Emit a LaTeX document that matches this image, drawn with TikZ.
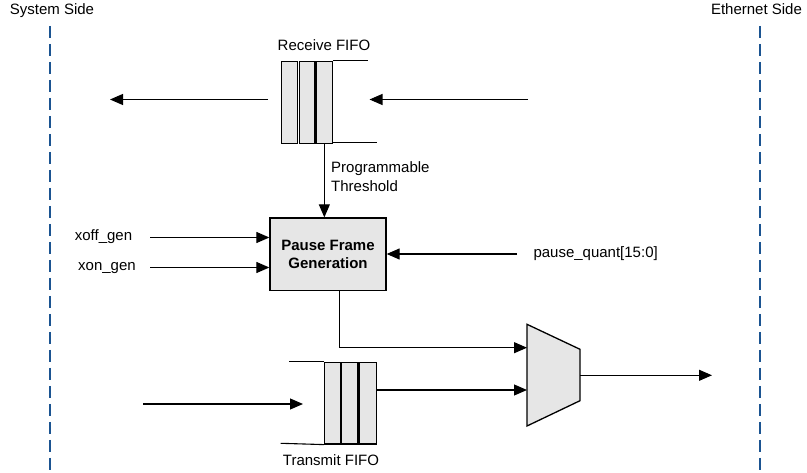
\documentclass[tikz,border=0pt]{standalone}
\usepackage{fontspec}
\setmainfont{Liberation Sans}
\usetikzlibrary{arrows.meta}
\definecolor{dashblue}{HTML}{1B5491}
\definecolor{cellgray}{HTML}{E6E6E6}
\begin{document}
\begin{tikzpicture}[x=1pt,y=-1pt,
  font=\fontsize{15}{18.5}\selectfont,
  conn/.style={line width=1.1pt, draw=black},
  arr/.style={conn, -{Triangle[length=13pt,width=11pt]}},
  cell/.style={draw=black, line width=1.3pt, fill=cellgray, inner sep=0pt, anchor=north west, minimum height=82pt},
  sideline/.style={draw=dashblue, line width=2.8pt, dash pattern=on 12.3pt off 5.7pt},
  lbl/.style={inner sep=0pt}]
\useasboundingbox (0,0) rectangle (807,473);

% side lines and labels
\coordinate (ltop) at (50,26);
\coordinate (lbot) at (50,473);
\coordinate (rtop) at (760,26);
\coordinate (rbot) at (760,473);
\draw[sideline] (ltop) -- (lbot);
\draw[sideline] (rtop) -- (rbot);
\node[lbl, anchor=base] (sys) at (52,15) {System Side};
\node[lbl, anchor=base] (eth) at (756.5,15) {Ethernet Side};

% Receive FIFO
\node[cell, minimum width=16pt] (rc1) at (280.7,60.7) {};
\node[cell, minimum width=15.3pt] (rc2) at (299,60.7) {};
\node[cell, minimum width=16pt] (rc3) at (315.7,60.7) {};
\node[lbl, anchor=base] (rlabel) at (324,51) {Receive FIFO};
\coordinate (rtopend) at (368,60.7);
\coordinate (rbotend) at (376.7,142.7);
\draw[conn] (rc3.north east) -- (rtopend);
\draw[conn] (rc3.south east |- rbotend) -- (rbotend);

\coordinate (rxin) at (528,99.5);
\coordinate (rxtip) at (369.5,99.5);
\draw[arr] (rxin) -- (rxtip);
\coordinate (rxout) at (268,99.5);
\coordinate (rxouttip) at (110,99.5);
\draw[arr] (rxout) -- (rxouttip);

% Pause frame generation
\node[draw=black, line width=1.3pt, fill=cellgray, minimum width=116pt, minimum height=72.7pt,
      align=center, font=\fontsize{15}{18.5}\selectfont\bfseries] (pfg) at (328,254.35)
      {Pause Frame\\Generation};

\draw[arr] (rc3.south) -- (rc3.south |- pfg.north);
\node[lbl, anchor=base west] (prog) at (331,172.7) {Programmable};
\node[lbl, anchor=base west] (thr) at (331,191.2) {Threshold};

\coordinate (xoffs) at (150,237.5);
\coordinate (xons) at (150,267.5);
\coordinate (pqs) at (517,254);
\draw[arr] (xoffs) -- (xoffs -| pfg.west);
\draw[arr] (xons) -- (xons -| pfg.west);
\draw[arr] (pqs) -- (pqs -| pfg.east);
\node[lbl, anchor=mid] (xofft) at (103.5,237.5) {xoff\_gen};
\node[lbl, anchor=mid] (xont) at (107,268) {xon\_gen};
\node[lbl, anchor=mid west] (pqt) at (533.3,255) {pause\_quant[15:0]};

% Mux
\coordinate (m1) at (527,324.3);
\coordinate (m2) at (580,349.3);
\coordinate (m3) at (580,400.7);
\coordinate (m4) at (527,426);
\draw[line width=1.3pt, fill=cellgray] (m1) -- (m2) -- (m3) -- (m4) -- cycle;
\coordinate (muxin1) at (527,347.7);
\coordinate (muxin2) at (527,390);
\coordinate (muxout) at (580,375.3);
\coordinate (outtip) at (712,375.3);
\coordinate (bend) at (339.3,347.7);
\draw[arr] (pfg.south -| bend) -- (bend) -- (muxin1);
\draw[arr] (muxout) -- (outtip);

% Transmit FIFO
\node[cell, minimum width=16pt, minimum height=81.6pt] (tc1) at (324,361.7) {};
\node[cell, minimum width=16.3pt, minimum height=81.6pt] (tc2) at (341,361.7) {};
\node[cell, minimum width=16.7pt, minimum height=81.6pt] (tc3) at (359,361.7) {};
\node[lbl, anchor=base] (tlabel) at (331,465) {Transmit FIFO};
\coordinate (ttopend) at (289.3,361.7);
\coordinate (tbotend) at (280.7,443.3);
\draw[conn] (ttopend) -- (tc1.north west);
\draw[conn] (tbotend) -- (tc1.south west);
\coordinate (txin) at (143,404);
\coordinate (txtip) at (303,404);
\draw[arr] (txin) -- (txtip);
\draw[arr] (tc3.east |- muxin2) -- (muxin2);
\end{tikzpicture}
\end{document}
